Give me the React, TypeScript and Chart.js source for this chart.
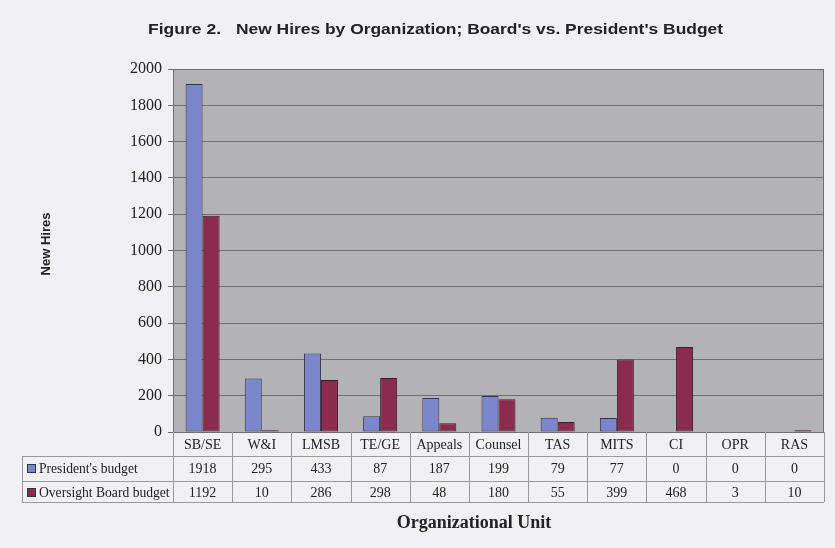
import React, { useEffect, useRef } from "react";
import { Chart, registerables } from "chart.js";

Chart.register(...registerables);

const categories = ["SB/SE", "W&I", "LMSB", "TE/GE", "Appeals", "Counsel", "TAS", "MITS", "CI", "OPR", "RAS"];
const presidentsBudget = [1918, 295, 433, 87, 187, 199, 79, 77, 0, 0, 0];
const boardBudget = [1192, 10, 286, 298, 48, 180, 55, 399, 468, 3, 10];
const seriesLabels = ["President's budget", "Oversight Board budget"];
const yMin = 0;
const yMax = 2000;
const yStep = 200;
const titleLead = "Figure 2.";
const titleMain = "New Hires by Organization; Board's vs. President's Budget";
const yTitle = "New Hires";
const xTitle = "Organizational Unit";

const BLUE = "#7c86cc";
const MAROON = "#8b2c4e";
const PAGE_BG = "#f1f1f3";
const PLOT_BG = "#b3b3b7";
const GRID = "#6e6e73";
const TABLE_LINE = "#9a9a9e";
const TEXT = "#222222";
const SERIF = "'Liberation Serif', 'Times New Roman', serif";
const SANS = "'Liberation Sans', Arial, sans-serif";

function drawStretched(ctx: any, text: string, x: number, y: number, width: number) {
  const w = ctx.measureText(text).width;
  ctx.save();
  ctx.translate(x, y);
  ctx.scale(width / w, 1);
  ctx.textAlign = "left";
  ctx.fillText(text, 0, 0);
  ctx.restore();
}

const decorPlugin = {
  id: "decor",
  beforeDraw(chart: any) {
    const { ctx, chartArea } = chart;
    ctx.save();
    ctx.fillStyle = PAGE_BG;
    ctx.fillRect(0, 0, chart.width, chart.height);
    ctx.fillStyle = PLOT_BG;
    ctx.fillRect(chartArea.left, chartArea.top, chartArea.right - chartArea.left, chartArea.bottom - chartArea.top);
    ctx.restore();
  },
  afterDraw(chart: any) {
    const { ctx, chartArea } = chart;
    const x = chart.scales.x;
    const n = categories.length;
    const colW = x.getPixelForValue(1) - x.getPixelForValue(0);
    const bottom = chartArea.bottom;
    const rowH = 24;
    const tableBottom = bottom + 70;
    const legendLeft = 22;
    ctx.save();
    // right border of plot
    ctx.strokeStyle = GRID;
    ctx.lineWidth = 1;
    ctx.beginPath();
    ctx.moveTo(Math.round(chartArea.right) - 0.5, chartArea.top);
    ctx.lineTo(Math.round(chartArea.right) - 0.5, bottom);
    ctx.stroke();

    // table lines
    ctx.strokeStyle = TABLE_LINE;
    ctx.beginPath();
    for (let i = 0; i <= n; i++) {
      const px = Math.round(x.getPixelForValue(0) - colW / 2 + i * colW) + 0.5;
      ctx.moveTo(px, bottom);
      ctx.lineTo(px, tableBottom);
    }
    const rowsY = [bottom + rowH, bottom + 2 * rowH + 1, tableBottom];
    rowsY.forEach((ry) => {
      ctx.moveTo(legendLeft, Math.round(ry) + 0.5);
      ctx.lineTo(chartArea.right, Math.round(ry) + 0.5);
    });
    ctx.moveTo(legendLeft + 0.5, bottom + rowH);
    ctx.lineTo(legendLeft + 0.5, tableBottom);
    ctx.stroke();

    // legend column
    const colors = [BLUE, MAROON];
    ctx.font = `13.6px ${SERIF}`;
    ctx.textBaseline = "middle";
    ctx.textAlign = "left";
    seriesLabels.forEach((lab, i) => {
      const cy = bottom + rowH * (i + 1) + 12;
      ctx.fillStyle = colors[i];
      ctx.fillRect(27, cy - 4, 8, 8);
      ctx.strokeStyle = "#333344";
      ctx.strokeRect(27.5, cy - 3.5, 8, 8);
      ctx.fillStyle = TEXT;
      ctx.fillText(lab, 39, cy + 1);
    });

    // titles
    ctx.fillStyle = TEXT;
    ctx.font = `bold 15px ${SANS}`;
    drawStretched(ctx, titleLead, 148, 30, 73);
    drawStretched(ctx, titleMain, 236, 30, 487);

    ctx.font = `bold 18px ${SERIF}`;
    ctx.textAlign = "center";
    ctx.fillText(xTitle, 474, 523);

    ctx.save();
    ctx.translate(46, 244);
    ctx.rotate(-Math.PI / 2);
    ctx.font = `bold 13px ${SANS}`;
    ctx.textAlign = "center";
    ctx.fillText(yTitle, 0, 0);
    ctx.restore();

    ctx.restore();
  },
};

export default function App() {
  const ref = useRef<HTMLCanvasElement | null>(null);
  useEffect(() => {
    if (!ref.current) return;
    const chart = new Chart(ref.current, {
      type: "bar",
      data: {
        labels: categories,
        datasets: [
          {
            label: seriesLabels[0],
            data: presidentsBudget,
            backgroundColor: BLUE,
            borderColor: "#34344a",
            borderWidth: 1,
            borderSkipped: false,
            categoryPercentage: 0.575,
            barPercentage: 1.0,
          },
          {
            label: seriesLabels[1],
            data: boardBudget,
            backgroundColor: MAROON,
            borderColor: "#3a1f2a",
            borderWidth: 1,
            borderSkipped: false,
            categoryPercentage: 0.575,
            barPercentage: 1.0,
          },
        ],
      },
      options: {
        responsive: false,
        animation: false,
        devicePixelRatio: 1,
        layout: { padding: { top: 69, left: 0, right: 11, bottom: 0 } },
        plugins: {
          legend: { display: false },
          title: { display: false },
          tooltip: { enabled: false },
        },
        scales: {
          x: {
            grid: { display: false, drawTicks: false },
            border: { display: false },
            ticks: {
              autoSkip: false,
              maxRotation: 0,
              minRotation: 0,
              padding: 1,
              color: TEXT,
              font: { family: SERIF, size: 14, lineHeight: "24px" },
              callback: (_v: any, i: number) => [categories[i], String(presidentsBudget[i]), String(boardBudget[i])],
            },
            afterFit: (scale: any) => {
              scale.height = 116;
            },
          },
          y: {
            min: yMin,
            max: yMax,
            grid: { color: GRID, lineWidth: 1, drawTicks: true, tickLength: 5 },
            border: { display: true, color: GRID },
            ticks: {
              stepSize: yStep,
              padding: 6,
              color: TEXT,
              font: { family: SERIF, size: 16 },
              callback: (v: any) => String(v),
            },
            afterFit: (scale: any) => {
              scale.width = 173;
            },
          },
        },
      },
      plugins: [decorPlugin],
    });
    return () => chart.destroy();
  }, []);
  return (
    <div style={{ position: "fixed", left: 0, top: 0, width: 835, height: 548, background: PAGE_BG }}>
      <canvas ref={ref} width={835} height={548} style={{ display: "block" }} />
    </div>
  );
}
